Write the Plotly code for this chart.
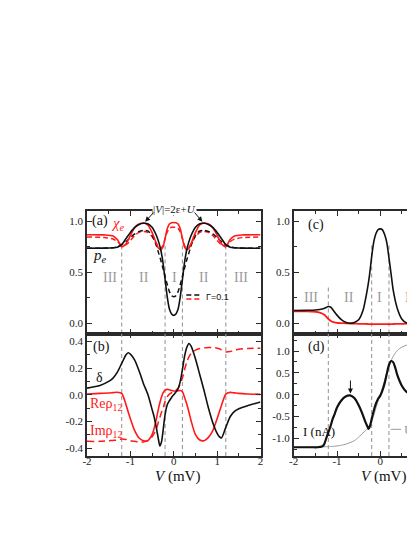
import plotly.graph_objects as go

# ---------------- data ----------------
V_A = [-2.0, -1.6, -1.4, -1.3, -1.2, -1.1, -1.0, -0.9, -0.8, -0.7, -0.6, -0.5, -0.4, -0.35, -0.3,
       -0.25, -0.2, -0.15, -0.1, -0.05, 0.0, 0.05, 0.1, 0.15, 0.2, 0.25, 0.3, 0.35, 0.4, 0.5,
       0.6, 0.7, 0.8, 0.9, 1.0, 1.1, 1.2, 1.3, 1.4, 1.6, 2.0]
PE_G0 = [0.735, 0.736, 0.74, 0.746, 0.77, 0.83, 0.89, 0.94, 0.968, 0.98, 0.975, 0.94, 0.86, 0.80, 0.72,
         0.6, 0.43, 0.26, 0.14, 0.092, 0.078, 0.092, 0.14, 0.26, 0.43, 0.6, 0.72, 0.80, 0.86, 0.94,
         0.975, 0.98, 0.968, 0.94, 0.89, 0.83, 0.77, 0.746, 0.74, 0.736, 0.735]
PE_G01 = [0.735, 0.736, 0.74, 0.75, 0.77, 0.80, 0.84, 0.875, 0.9, 0.91, 0.905, 0.86, 0.76, 0.69, 0.62,
          0.54, 0.46, 0.38, 0.31, 0.27, 0.26, 0.27, 0.31, 0.38, 0.46, 0.54, 0.62, 0.69, 0.76, 0.86,
          0.905, 0.91, 0.9, 0.875, 0.84, 0.80, 0.77, 0.75, 0.74, 0.736, 0.735]
CHI_G0 = [0.868, 0.866, 0.855, 0.82, 0.75, 0.78, 0.86, 0.935, 0.972, 0.983, 0.965, 0.89, 0.78, 0.735, 0.72,
          0.745, 0.83, 0.925, 0.972, 0.985, 0.987, 0.985, 0.972, 0.925, 0.83, 0.745, 0.72, 0.735, 0.78, 0.89,
          0.965, 0.983, 0.972, 0.935, 0.86, 0.78, 0.75, 0.82, 0.855, 0.866, 0.868]
CHI_G01 = [0.845, 0.84, 0.825, 0.80, 0.765, 0.77, 0.81, 0.86, 0.89, 0.90, 0.89, 0.85, 0.78, 0.745, 0.735,
           0.76, 0.83, 0.895, 0.93, 0.94, 0.942, 0.94, 0.93, 0.895, 0.83, 0.76, 0.735, 0.745, 0.78, 0.85,
           0.89, 0.90, 0.89, 0.86, 0.81, 0.77, 0.765, 0.80, 0.825, 0.84, 0.845]

V_B = [-2.0, -1.7, -1.5, -1.4, -1.3, -1.2, -1.1, -1.05, -1.0, -0.9, -0.8, -0.7, -0.6, -0.5, -0.45, -0.4,
       -0.35, -0.32, -0.28, -0.25, -0.2, -0.15, -0.1, -0.05, 0.0, 0.05, 0.1, 0.15, 0.2, 0.25, 0.3, 0.35,
       0.4, 0.5, 0.6, 0.7, 0.8, 0.9, 1.0, 1.05, 1.1, 1.2, 1.3, 1.4, 1.5, 1.7, 2.0]
DELTA = [0.05, 0.07, 0.1, 0.125, 0.17, 0.235, 0.3, 0.315, 0.305, 0.26, 0.18, 0.085, 0.005, -0.11, -0.17, -0.25,
         -0.34, -0.385, -0.35, -0.28, -0.15, -0.075, -0.045, -0.02, 0.0, 0.02, 0.045, 0.1, 0.19, 0.29, 0.355, 0.385,
         0.365, 0.27, 0.15, 0.03, -0.1, -0.21, -0.29, -0.315, -0.325, -0.245, -0.165, -0.125, -0.105, -0.082, -0.055]
RE_RHO12 = [0.005, 0.01, 0.013, 0.016, 0.019, 0.01, -0.075, -0.13, -0.18, -0.27, -0.325, -0.345, -0.345, -0.3, -0.25, -0.18,
            -0.1, -0.06, -0.015, 0.012, 0.035, 0.04, 0.037, 0.032, 0.028, 0.028, 0.03, 0.032, 0.022, -0.02, -0.07, -0.13,
            -0.195, -0.3, -0.34, -0.345, -0.32, -0.27, -0.18, -0.13, -0.08, 0.005, 0.018, 0.014, 0.01, 0.006, 0.003]
IM_RHO12 = [-0.35, -0.35, -0.345, -0.343, -0.34, -0.332, -0.336, -0.34, -0.345, -0.35, -0.355, -0.355, -0.345, -0.315, -0.29, -0.255,
            -0.2, -0.17, -0.13, -0.105, -0.05, -0.015, 0.005, 0.015, 0.025, 0.035, 0.05, 0.08, 0.125, 0.19, 0.245, 0.285,
            0.31, 0.335, 0.347, 0.352, 0.355, 0.355, 0.35, 0.345, 0.337, 0.322, 0.325, 0.335, 0.342, 0.348, 0.35]

V_C = [-2.0, -1.7, -1.5, -1.4, -1.3, -1.25, -1.2, -1.15, -1.1, -1.0, -0.9, -0.8, -0.7, -0.6, -0.5, -0.4,
       -0.3, -0.25, -0.2, -0.15, -0.1, -0.05, 0.0, 0.05, 0.1, 0.15, 0.2, 0.25, 0.3, 0.4, 0.5, 0.6, 0.7,
       0.8, 0.9, 1.0, 1.1]
C_BLACK = [0.125, 0.127, 0.13, 0.135, 0.145, 0.155, 0.165, 0.16, 0.135, 0.08, 0.035, 0.01, 0.0, 0.008, 0.035, 0.125,
           0.33, 0.47, 0.65, 0.8, 0.88, 0.918, 0.925, 0.915, 0.87, 0.79, 0.64, 0.48, 0.32, 0.135, 0.04, 0.005, 0.002,
           0.02, 0.055, 0.1, 0.14]
C_RED = [0.118, 0.117, 0.113, 0.105, 0.085, 0.065, 0.043, 0.025, 0.013, 0.005, 0.002, 0.0, -0.002, -0.003, -0.005, -0.006,
         -0.007, -0.008, -0.008, -0.009, -0.009, -0.009, -0.009, -0.009, -0.009, -0.008, -0.008, -0.008, -0.007, -0.006,
         -0.005, -0.004, -0.003, -0.002, -0.001, 0.0, 0.002]

V_D = [-2.0, -1.6, -1.45, -1.35, -1.3, -1.25, -1.2, -1.15, -1.1, -1.05, -1.0, -0.9, -0.8, -0.7, -0.6, -0.5,
       -0.4, -0.35, -0.3, -0.27, -0.24, -0.2, -0.15, -0.1, -0.05, 0.0, 0.05, 0.1, 0.15, 0.2, 0.25, 0.3,
       0.35, 0.4, 0.5, 0.6, 0.7, 0.8, 0.9, 1.0, 1.1]
CURRENT = [-1.2, -1.2, -1.2, -1.185, -1.14, -1.0, -0.86, -0.72, -0.55, -0.43, -0.29, -0.13, -0.04, -0.015, -0.075, -0.24,
           -0.47, -0.61, -0.72, -0.78, -0.72, -0.56, -0.36, -0.2, -0.09, -0.02, 0.1, 0.26, 0.48, 0.68, 0.77, 0.74,
           0.6, 0.43, 0.2, 0.07, 0.02, 0.11, 0.28, 0.47, 0.66]
CURRENT_U0 = [-1.2, -1.198, -1.195, -1.192, -1.19, -1.188, -1.186, -1.184, -1.18, -1.177, -1.17, -1.155, -1.13, -1.095, -1.05, -0.97,
              -0.87, -0.83, -0.78, -0.75, -0.7, -0.61, -0.47, -0.3, -0.14, 0.0, 0.16, 0.33, 0.5, 0.64, 0.78, 0.88,
              0.96, 1.02, 1.09, 1.13, 1.155, 1.17, 1.178, 1.183, 1.187]

REGION_BOUNDS = [-1.2, -0.2, 0.2, 1.2]
X_TICKS = [-2, -1, 0, 1, 2]
X_TICK_TEXT = ["-2", "-1", "0", "1", "2"]
YA_TICKS = [0.0, 0.5, 1.0]
YA_TICK_TEXT = ["0.0", "0.5", "1.0"]
YB_TICKS = [-0.4, -0.2, 0.0, 0.2, 0.4]
YB_TICK_TEXT = ["-0.4", "-0.2", "0.0", "0.2", "0.4"]
YD_TICKS = [-1.0, -0.5, 0.0, 0.5, 1.0]
YD_TICK_TEXT = ["-1.0", "-0.5", "0.0", "0.5", "1.0"]

# ---------------- styling ----------------
SERIF = "Liberation Serif"
AX = "#2b2b2b"
RED = "#ff1a1a"
GRAY_LINE = "#9a9a9a"
REGION_GRAY = "#9a9a9a"
TICKFONT = dict(family=SERIF, size=11, color="#222")

fig = go.Figure()


def add(x, y, xa, ya, color, width, dash="solid"):
    fig.add_trace(go.Scatter(x=x, y=y, xaxis=xa, yaxis=ya, mode="lines",
                             line=dict(color=color, width=width, dash=dash, shape="spline", smoothing=0.7),
                             showlegend=False, hoverinfo="skip"))


# panel (a)
add(V_A, CHI_G01, "x", "y", RED, 1.5, "5px,3px")
add(V_A, PE_G01, "x", "y", "#111", 1.5, "5px,3px")
add(V_A, CHI_G0, "x", "y", RED, 1.6)
add(V_A, PE_G0, "x", "y", "#111", 1.6)
# panel (b)
add(V_B, IM_RHO12, "x2", "y2", RED, 1.5, "7px,4px")
add(V_B, RE_RHO12, "x2", "y2", RED, 1.6)
add(V_B, DELTA, "x2", "y2", "#111", 1.6)
# panel (c)
add(V_C, C_RED, "x3", "y3", RED, 1.8)
add(V_C, C_BLACK, "x3", "y3", "#111", 1.6)
# panel (d)
add(V_D, CURRENT_U0, "x4", "y4", GRAY_LINE, 1.0)
add(V_D, CURRENT, "x4", "y4", "#111", 2.2)

XL = [79 / 415, 252.5 / 415]
XR = [285.7 / 415, 1.0]


def xaxis(domain, anchor, labels, rng):
    return dict(domain=domain, anchor=anchor, range=rng, showline=True, linecolor=AX, linewidth=1.6,
                mirror="allticks", ticks="inside", ticklen=5, tickwidth=1, tickcolor=AX,
                tickmode="array", tickvals=X_TICKS, ticktext=X_TICK_TEXT, showticklabels=labels,
                ticklabelstandoff=-6,
                showgrid=False, zeroline=False, tickfont=TICKFONT,
                minor=dict(ticks="inside", ticklen=3, dtick=0.5, tick0=0, tickcolor=AX, showgrid=False))


def yaxis(domain, anchor, rng, tv, tt, minor_dt, mirror):
    return dict(domain=domain, anchor=anchor, range=rng, showline=True, linecolor=AX, linewidth=1.6,
                mirror=mirror, ticks="inside", ticklen=5, tickwidth=1, tickcolor=AX,
                tickmode="array", tickvals=tv, ticktext=tt, showgrid=False, zeroline=False, tickfont=TICKFONT,
                minor=dict(ticks="inside", ticklen=3, dtick=minor_dt, tick0=0, tickcolor=AX, showgrid=False))


fig.update_layout(
    template="none",
    width=415, height=537,
    margin=dict(l=0, r=0, t=203, b=88.5, pad=0),
    paper_bgcolor="white", plot_bgcolor="white",
    font=dict(family=SERIF, size=12, color="#111"),
    showlegend=False,
    xaxis=xaxis(XL, "y", False, [-2, 2]),
    yaxis=yaxis([0.5, 1.0], "x", [-0.1, 1.1], YA_TICKS, YA_TICK_TEXT, 0.25, "allticks"),
    xaxis2=xaxis(XL, "y2", True, [-2, 2]),
    yaxis2=yaxis([0.0, 0.5], "x2", [-0.46, 0.46], YB_TICKS, YB_TICK_TEXT, 0.1, "allticks"),
    xaxis3=xaxis(XR, "y3", False, [-2, 0.986]),
    yaxis3=yaxis([0.5, 1.0], "x3", [-0.1, 1.1], YA_TICKS, YA_TICK_TEXT, 0.25, False),
    xaxis4=xaxis(XR, "y4", True, [-2, 0.986]),
    yaxis4=yaxis([0.0, 0.5], "x4", [-1.4, 1.4], YD_TICKS, YD_TICK_TEXT, 0.25, False),
)

# dashed region boundaries
shapes = []
dash_line = dict(color=GRAY_LINE, width=1.1, dash="4px,3px")
for b in REGION_BOUNDS:
    shapes.append(dict(type="line", xref="x", yref="y", x0=b, x1=b, y0=-0.1, y1=0.76, line=dash_line, layer="below"))
    shapes.append(dict(type="line", xref="x2", yref="y2", x0=b, x1=b, y0=-0.46, y1=0.46, line=dash_line, layer="below"))
    if b < 0.986:
        top_c = 0.37 if abs(b) > 1 else 0.78
        shapes.append(dict(type="line", xref="x3", yref="y3", x0=b, x1=b, y0=-0.1, y1=top_c, line=dash_line, layer="below"))
        shapes.append(dict(type="line", xref="x4", yref="y4", x0=b, x1=b, y0=-1.4, y1=1.4, line=dash_line, layer="below"))

# legend glyphs
shapes.append(dict(type="line", xref="x", yref="y", x0=0.29, x1=0.65, y0=0.277, y1=0.277,
                   line=dict(color="#111", width=1.5, dash="5px,3px")))
shapes.append(dict(type="line", xref="x", yref="y", x0=0.29, x1=0.65, y0=0.238, y1=0.238,
                   line=dict(color=RED, width=1.5, dash="5px,3px")))
shapes.append(dict(type="line", xref="x3", yref="y3", x0=0.87, x1=0.986, y0=0.97, y1=0.97,
                   line=dict(color="#111", width=1.6)))
shapes.append(dict(type="line", xref="x3", yref="y3", x0=0.87, x1=0.986, y0=0.81, y1=0.81,
                   line=dict(color=RED, width=1.8)))
shapes.append(dict(type="line", xref="x4", yref="y4", x0=0.24, x1=0.48, y0=-0.79, y1=-0.79,
                   line=dict(color=GRAY_LINE, width=1.0)))
fig.update_layout(shapes=shapes)

ann = []


def txt(x, y, text, xr, yr, size=14, color="#111", xanchor="center", family=SERIF, **kw):
    ann.append(dict(x=x, y=y, xref=xr, yref=yr, text=text, showarrow=False, xanchor=xanchor,
                    yanchor="middle", font=dict(family=family, size=size, color=color), **kw))


# panel (a)
txt(-1.93, 1.0, "(a)", "x", "y", 14, xanchor="left")
txt(-1.5, 0.975, "<i>χ<sub>e</sub></i>", "x", "y", 15, RED, xanchor="left")
txt(-1.9, 0.655, "<i>p<sub>e</sub></i>", "x", "y", 15, xanchor="left")
for xv, lab in zip([-1.47, -0.69, 0.02, 0.70, 1.555], ["III", "II", "I", "II", "III"]):
    txt(xv, 0.45, lab, "x", "y", 14, REGION_GRAY)
txt(0.69, 0.258, "Γ=0.1", "x", "y", 9, "#111", xanchor="left", family="Liberation Sans")
# note above panel (a), placed in domain units so it may sit above the axis range
txt(0.02, 1.013, "|<i>V</i>|=2ε+<i>U</i>", "x", "y domain", 11, bgcolor="white", borderpad=0)
for tip_x, tail_x in [(-0.66, -0.43), (0.66, 0.45)]:
    ann.append(dict(x=tip_x, y=0.995, xref="x", yref="y", ax=tail_x, ay=1.1, axref="x", ayref="y",
                    text="", showarrow=True, arrowhead=2, arrowsize=1, arrowwidth=1, arrowcolor="#111"))
# panel (b)
txt(-1.9, 0.357, "(b)", "x2", "y2", 14, xanchor="left")
txt(-1.84, 0.13, "δ", "x2", "y2", 14, xanchor="left")
txt(-1.98, -0.075, "Reρ<sub>12</sub>", "x2", "y2", 14, RED, xanchor="left")
txt(-1.98, -0.275, "Imρ<sub>12</sub>", "x2", "y2", 14, RED, xanchor="left")
# panel (c)
txt(-1.71, 0.96, "(c)", "x3", "y3", 14, xanchor="left")
for xv, lab in zip([-1.61, -0.72, -0.015, 0.68], ["III", "II", "I", "II"]):
    txt(xv, 0.25, lab, "x3", "y3", 14, REGION_GRAY)
# panel (d)
txt(-1.71, 1.09, "(d)", "x4", "y4", 14, xanchor="left")
txt(-1.83, -0.85, "I (nA)", "x4", "y4", 13, xanchor="left")
txt(0.49, -0.8, "U=0", "x4", "y4", 13, GRAY_LINE, xanchor="left")
ann.append(dict(x=-0.69, y=0.03, xref="x4", yref="y4", ax=-0.69, ay=0.36, axref="x4", ayref="y4",
                text="", showarrow=True, arrowhead=2, arrowsize=1, arrowwidth=1, arrowcolor="#111"))
ann.append(dict(x=0.70, y=-0.03, xref="x4", yref="y4", ax=0.70, ay=-0.32, axref="x4", ayref="y4",
                text="", showarrow=True, arrowhead=2, arrowsize=1, arrowwidth=1, arrowcolor="#555"))
# x-axis titles
for xr in ["x2", "x4"]:
    ann.append(dict(x=0.08, y=0, xref=xr, yref="paper", yshift=-20, text="<i>V</i> (mV)", showarrow=False,
                    xanchor="center", yanchor="middle", font=dict(family=SERIF, size=15, color="#111")))

fig.update_layout(annotations=ann)
fig.write_html("out.html")
